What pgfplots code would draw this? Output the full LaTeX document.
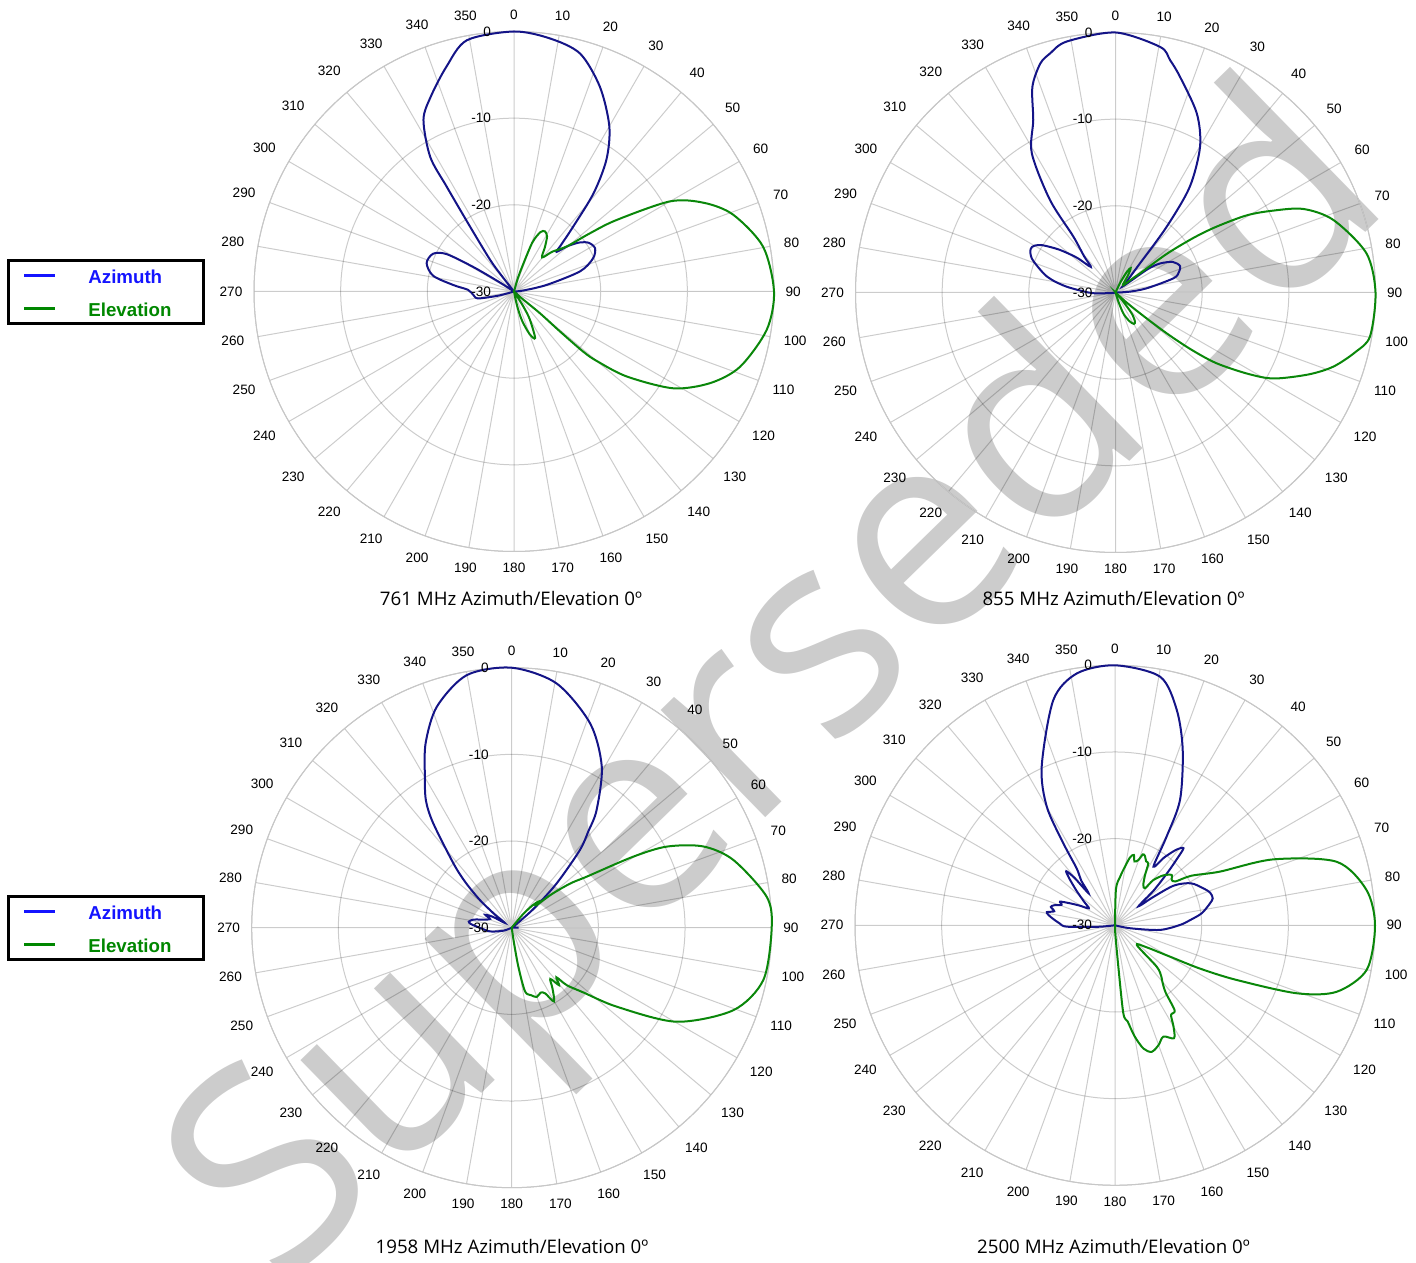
\documentclass[border=0pt]{standalone}
\usepackage{fontspec}
\setmainfont{Liberation Sans}
\newfontfamily\titlefont{Open Sans}
\usepackage{pgfplots}
\usepackage{pgfplotstable}
\pgfplotsset{compat=1.18}
\usepgfplotslibrary{polar}

\definecolor{azcol}{RGB}{20,20,135}
\definecolor{elcol}{RGB}{10,135,10}
\definecolor{legblue}{RGB}{20,20,255}
\definecolor{leggreen}{RGB}{0,135,0}
\definecolor{wmark}{RGB}{204,204,204}

% angle in degrees (0 = north, clockwise; values past 360 wrap round), value in dB
\pgfplotstableread[row sep=\\]{
t d\\
90 -30\\ 250 -30\\ 255 -28.2\\ 259 -25.8\\ 265 -25.3\\
272 -24.7\\ 276 -23\\ 281 -20.5\\ 288 -19.4\\ 295 -19.7\\ 299 -21.1\\ 301 -24.5\\
302.5 -28\\ 305 -30\\ 320 -30\\ 322 -27.5\\ 323 -25.4\\ 325.9 -20.9\\ 327.3 -15.6\\
328.1 -11.7\\ 332.2 -7.6\\ 337 -5.5\\ 343.3 -2.9\\ 349.4 -0.5\\ 360 0\\
368 -0.5\\ 375.5 -1.5\\ 382.8 -4.4\\ 390 -8.0\\ 395 -11.4\\ 399 -15.4\\ 402.4 -19.9\\
405.5 -22.5\\ 407 -23.3\\ 410 -21.8\\ 413.4 -20.5\\ 417 -19.7\\ 421.9 -19.4\\ 427.2 -20.1\\
433 -22.0\\ 438.5 -26.1\\ 444 -28.9\\ 450 -30\\
}\azA
\pgfplotstableread[row sep=\\]{
t d\\
0 -30\\ 14 -30\\ 16 -28.5\\ 18 -27.2\\ 20.5 -24\\ 24 -22.5\\ 27.3 -22.2\\ 31 -22.6\\
35 -23.8\\ 39.5 -24.9\\ 44 -23.6\\ 49.5 -22\\ 52.5 -19\\ 55.1 -15.6\\ 60 -9.2\\ 65 -5.8\\
70.7 -3.2\\ 79.8 -0.8\\ 90 0\\ 98.6 -0.5\\ 108.4 -2.5\\ 115 -5\\ 121.3 -8.5\\ 127 -13.7\\
130 -17.5\\ 131 -19.4\\ 131 -23\\ 130 -26.1\\ 132 -29\\ 135 -30\\ 145 -30\\ 148 -28\\
150.5 -26.3\\ 155.6 -24.1\\ 160 -24.8\\ 164.8 -26.6\\ 168 -28.5\\ 170 -30\\ 360 -30\\
}\elA
\pgfplotstableread[row sep=\\]{
t d\\
90 -30\\ 250 -30\\ 262 -29.5\\
268 -27.5\\ 272 -26.3\\ 276.8 -24.3\\ 281 -22.6\\ 284.9 -21.4\\ 292 -19.6\\ 297 -19.0\\
300 -19.2\\ 303 -20\\ 307.4 -21.9\\ 312 -24\\ 316 -25.9\\ 319 -24.5\\ 323 -21.9\\
324.7 -16.9\\ 329 -11.25\\ 334.5 -7.95\\ 338 -4.4\\ 341.8 -2.2\\ 344.7 -1.4\\ 349 -0.5\\ 360 0\\
370.3 -1.2\\ 373.2 -2.45\\ 376.6 -4.0\\ 384.4 -7.3\\ 390.1 -10.55\\ 395.1 -15.1\\ 397.9 -20.4\\
400 -25.6\\ 406 -28.3\\ 411 -28.8\\ 414 -25.5\\ 416.8 -23.9\\ 422 -22.5\\ 427.7 -21.95\\
432 -22.3\\ 436.2 -23.1\\ 442.4 -26.4\\ 447 -28.5\\ 450 -30\\
}\azB
\pgfplotstableread[row sep=\\]{
t d\\
0 -30\\ 22 -30\\ 26 -28.5\\ 29 -27.2\\ 32 -26.7\\ 36 -27.5\\ 41 -28.6\\ 46 -28.8\\
49 -28.4\\ 51 -27.2\\ 52 -26.4\\ 53 -22.6\\ 55 -19\\ 56.9 -16.1\\ 59.5 -12.5\\
62.35 -9.7\\ 66 -6.3\\ 71.6 -3.5\\ 81.1 -0.7\\ 90 0\\ 99.8 -0.2\\ 104 -1.5\\
108.8 -3.45\\ 113 -5.8\\ 118.5 -9.2\\ 121.5 -12\\ 125 -15.75\\ 127 -19\\ 128.6 -22.45\\
130.4 -26.3\\ 132.5 -28.5\\ 136 -30\\ 139 -29\\ 142.2 -27\\ 146 -26\\ 149.6 -25.8\\
154 -26.3\\ 159.4 -27.4\\ 163 -29\\ 166 -30\\ 360 -30\\
}\elB
\pgfplotstableread[row sep=\\]{
t d\\
93 -30\\ 245 -30\\
250 -29\\ 260 -27.5\\ 270 -26.3\\ 275 -25.3\\ 278 -25\\ 282 -25.5\\ 287 -26.8\\
292 -27.3\\ 296 -26.6\\ 300 -27.5\\ 305 -29\\ 308 -27.5\\ 311.1 -25.1\\ 314.5 -22.5\\
317.8 -20\\ 323.1 -14.9\\ 326 -12.3\\ 330.1 -9.9\\ 335 -6.5\\ 341.3 -3.07\\
349.9 -0.4\\ 360 0\\
370.4 -1.34\\ 381 -4.75\\ 389.2 -8.7\\ 395.8 -13.25\\ 398.5 -15.8\\ 401.3 -18.1\\
405.4 -22.7\\ 409 -26.5\\ 413 -29.3\\ 416 -30\\ 448 -30\\ 450 -29.2\\ 453 -30\\
}\azC
\pgfplotstableread[row sep=\\]{
t d\\
0 -30\\ 36 -30\\ 40 -28\\ 43 -26.5\\ 45.7 -25.7\\ 47.5 -26.2\\ 50 -24\\ 53 -21.5\\
55.8 -19.5\\ 59.7 -13.75\\ 62.4 -9.8\\ 67 -6\\ 73 -3.26\\ 83.1 -0.36\\ 90 0\\
101.7 -0.34\\ 110.4 -2.7\\ 119.7 -8.1\\ 126.9 -14.8\\ 132 -18.8\\ 136.2 -20.8\\
138 -22.3\\ 140.5 -21.4\\ 143 -22.6\\ 146 -21.6\\ 150.2 -20.2\\ 153 -21.5\\ 156 -21.8\\
160.1 -21.5\\ 164 -21.9\\ 168.2 -22.5\\ 170.3 -25.4\\ 171.5 -28.2\\ 173 -30\\ 360 -30\\
}\elC
\pgfplotstableread[row sep=\\]{
t d\\
105 -30\\ 262 -30\\
265 -28\\ 268.4 -24.4\\ 272 -23.6\\ 276 -22.8\\ 279 -22.2\\ 281 -22\\ 283 -22.8\\
286 -22.3\\ 288.2 -22.6\\ 291 -23.4\\ 293.3 -23.1\\ 296 -24.2\\ 299 -25.3\\ 303 -26.4\\
307 -25.6\\ 312 -24\\ 316 -22.3\\ 318 -21.6\\ 319.5 -22.8\\ 320.5 -25.2\\ 323 -23.5\\
326 -22.1\\ 327.8 -18.8\\ 330.1 -14.2\\ 335.2 -9.83\\ 344.7 -3.04\\ 351.4 -0.6\\ 360 0\\
370.3 -0.85\\ 376 -4.15\\ 381.1 -8.3\\ 387.4 -13.7\\ 390.2 -18.2\\ 393.2 -21.9\\
396 -20.3\\ 399 -18.8\\ 401.6 -18.1\\ 403 -19.5\\ 405 -21.5\\ 408 -24\\ 411 -26.5\\
413.5 -24.5\\ 416 -21.8\\ 421 -20\\ 427.3 -18.95\\ 431 -18.4\\ 434.5 -18.3\\ 437 -18.75\\
442.1 -19.9\\ 446 -21.3\\ 449.7 -22.5\\ 455.9 -24.8\\ 461 -28.2\\ 465 -30\\
}\azD
\pgfplotstableread[row sep=\\]{
t d\\
0 -30\\ 1.5 -25.8\\ 5.9 -24.4\\ 8.6 -23.5\\ 12.4 -22\\ 15 -21.6\\ 17 -22.3\\ 19.7 -22\\
21.5 -21.2\\ 23.4 -21.3\\ 26 -21.8\\ 28.3 -21.9\\ 31 -23.3\\ 35 -24.3\\ 39 -24.5\\
40.2 -23.2\\ 44 -22\\ 48.4 -21.25\\ 51 -21.6\\ 54 -21.4\\ 57 -19.5\\ 62.9 -16.4\\
67.4 -10.2\\ 74 -3.4\\ 82 -0.7\\ 90 0\\ 100 -0.5\\ 106.7 -3.3\\ 110.5 -7.6\\
114.2 -14.6\\ 117 -19\\ 119.7 -22.7\\ 125 -25.6\\ 132.2 -26.6\\ 134.8 -23.2\\ 138 -22\\
140 -21.5\\ 143 -20.3\\ 145 -18\\ 148 -17.8\\ 150 -16.5\\ 152.4 -15.3\\ 156.5 -16\\
160 -15.3\\ 163.8 -14.8\\ 167 -15.4\\ 170 -17\\ 172.5 -18.8\\ 174.6 -19.8\\
175.4 -25.2\\ 178 -29\\ 180 -30\\ 360 -30\\
}\elD

\pgfplotsset{
  pattern axis/.style={
    scale only axis, width=260pt, height=260pt, anchor=center,
    xmin=0, xmax=360, ymin=0, ymax=30,
    xtick={0,10,...,350},
    xticklabels={90,80,70,60,50,40,30,20,10,0,350,340,330,320,310,300,290,280,
      270,260,250,240,230,220,210,200,190,180,170,160,150,140,130,120,110,100},
    ytick={0,10,20,30}, yticklabels={},
    grid=major,
    major grid style={black, opacity=0.2, line width=0.5pt},
    axis line style={black!22, line width=0.5pt},
    major tick length=0pt,
    clip=false,
    ticklabel style={font=\fontsize{6.8}{8}\selectfont},
    xticklabel style={outer sep=2.5pt},
  },
  az/.style={azcol, line width=1pt, smooth},
  el/.style={elcol, line width=1pt, smooth},
}
\newcommand\radlabels{%
  \node[anchor=east, xshift=-8pt, font=\fontsize{6.8}{8}\selectfont] at (axis cs:90,30) {0};
  \node[anchor=east, xshift=-8pt, font=\fontsize{6.8}{8}\selectfont] at (axis cs:90,20) {-10};
  \node[anchor=east, xshift=-8pt, font=\fontsize{6.8}{8}\selectfont] at (axis cs:90,10) {-20};
  \node[anchor=east, xshift=-8pt, font=\fontsize{6.8}{8}\selectfont] at (axis cs:90,0) {-30};
}
\newcommand\legendbox[1]{%
  \begin{scope}[yshift=#1]
    \draw[line width=1.5pt] (4.25pt,469.25pt) rectangle (101.75pt,500.75pt);
    \draw[legblue, line width=1.5pt] (12pt,493pt) -- (27.5pt,493pt);
    \draw[leggreen, line width=1.5pt] (12pt,476.5pt) -- (27.5pt,476.5pt);
    \node[anchor=west, inner sep=0pt, font=\bfseries\fontsize{9.35}{11}\selectfont, text=legblue] at (44pt,492.5pt) {Azimuth};
    \node[anchor=west, inner sep=0pt, font=\bfseries\fontsize{9.35}{11}\selectfont, text=leggreen] at (44pt,476.3pt) {Elevation};
  \end{scope}}

\begin{document}
\begin{tikzpicture}
\useasboundingbox (0pt,0pt) rectangle (708pt,631pt);
\node[overlay, rotate=44.3, anchor=base east, text=wmark, inner sep=0pt,
  font=\titlefont\fontsize{140}{150}\selectfont] at (698pt,530pt) {Superseded};

\begin{polaraxis}[pattern axis, at={(257pt,485.25pt)}]
\addplot[az] table[x expr=90-\thisrow{t}, y expr=\thisrow{d}+30] {\azA};
\addplot[el] table[x expr=90-\thisrow{t}, y expr=\thisrow{d}+30] {\elA};
\radlabels
\end{polaraxis}

\begin{polaraxis}[pattern axis, at={(557.75pt,484.75pt)}]
\addplot[az] table[x expr=90-\thisrow{t}, y expr=\thisrow{d}+30] {\azB};
\addplot[el] table[x expr=90-\thisrow{t}, y expr=\thisrow{d}+30] {\elB};
\radlabels
\end{polaraxis}

\begin{polaraxis}[pattern axis, at={(255.85pt,167.15pt)}]
\addplot[az] table[x expr=90-\thisrow{t}, y expr=\thisrow{d}+30] {\azC};
\addplot[el] table[x expr=90-\thisrow{t}, y expr=\thisrow{d}+30] {\elC};
\radlabels
\end{polaraxis}

\begin{polaraxis}[pattern axis, at={(557.5pt,168.35pt)}]
\addplot[az] table[x expr=90-\thisrow{t}, y expr=\thisrow{d}+30] {\azD};
\addplot[el] table[x expr=90-\thisrow{t}, y expr=\thisrow{d}+30] {\elD};
\radlabels
\end{polaraxis}

\node[font=\titlefont\fontsize{9.35}{11}\selectfont] at (255.5pt,332pt) {761 MHz Azimuth/Elevation 0º};
\node[font=\titlefont\fontsize{9.35}{11}\selectfont] at (556.75pt,332pt) {855 MHz Azimuth/Elevation 0º};
\node[font=\titlefont\fontsize{9.35}{11}\selectfont] at (256pt,8pt) {1958 MHz Azimuth/Elevation 0º};
\node[font=\titlefont\fontsize{9.35}{11}\selectfont] at (556.75pt,8pt) {2500 MHz Azimuth/Elevation 0º};

\legendbox{0pt}
\legendbox{-318pt}
\end{tikzpicture}
\end{document}
